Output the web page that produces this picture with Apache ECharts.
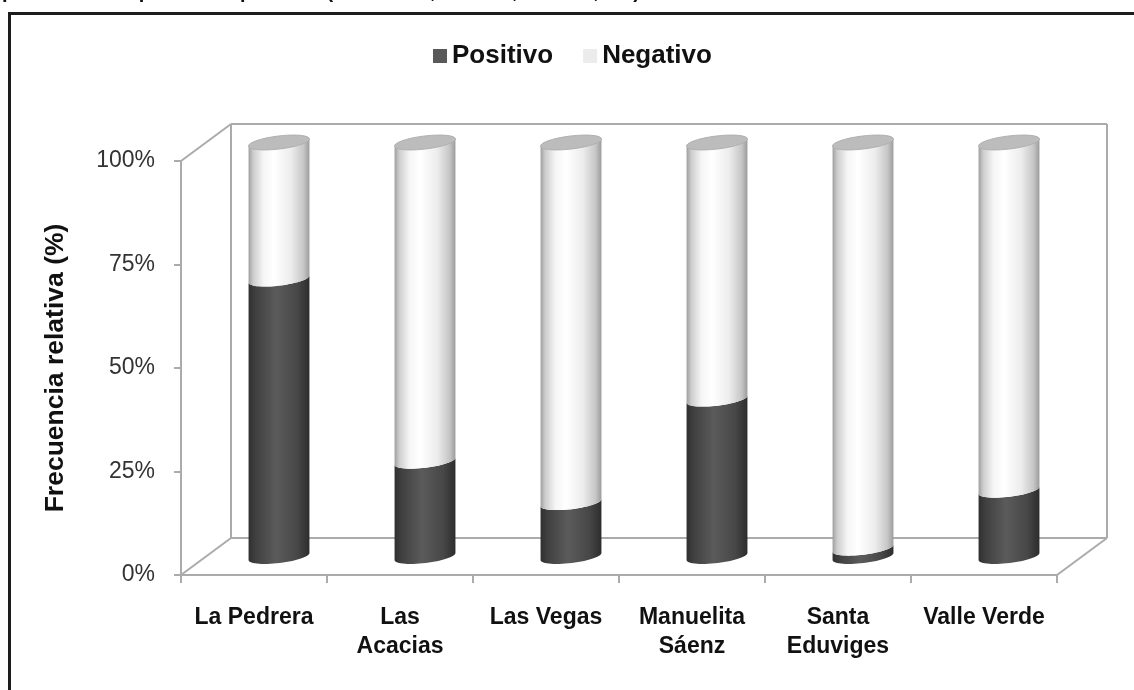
<!DOCTYPE html>
<html>
<head>
<meta charset="utf-8">
<script src="https://cdn.jsdelivr.net/npm/echarts@6/dist/echarts.min.js"></script>
<style>
  html, body { margin: 0; padding: 0; background: #fff; }
  #chart { width: 1134px; height: 690px; }
</style>
</head>
<body>
<div id="chart"></div>
<script>
// Sites sampled and share of positive / negative results (%)
const categories = ['La Pedrera', 'Las\nAcacias', 'Las Vegas', 'Manuelita\nSáenz', 'Santa\nEduviges', 'Valle Verde'];
const positivo = [67, 23, 13, 38, 2, 16];
const negativo = [33, 77, 87, 62, 98, 84];
const yTicks = [0, 25, 50, 75, 100];

// 3-D look: depth of the box and shape of the cylinders
const DEPTH_X = 50;
const DEPTH_Y = 37;
const BAR_RATIO = 0.42;
const ELLIPSE_RY = 6.5;
const TILT = 0.12;

const FONT = 'Liberation Sans, Arial, Helvetica, sans-serif';
const FRAME_COLOR = '#ababab';

function ellipsePoint(cx, cy, rx, ry, t) {
  const u = rx * Math.cos(t);
  const v = ry * Math.sin(t);
  return [cx + u * Math.cos(TILT) + v * Math.sin(TILT),
          cy - u * Math.sin(TILT) + v * Math.cos(TILT)];
}

function arc(cx, cy, rx, ry, t0, t1, n) {
  const pts = [];
  for (let i = 0; i <= n; i++) {
    pts.push(ellipsePoint(cx, cy, rx, ry, t0 + (t1 - t0) * i / n));
  }
  return pts;
}

function cylinderGeom(api, idx, v0, v1) {
  const band = api.size([1, 0])[0];
  const a = api.coord([idx, v0]);
  const b = api.coord([idx, v1]);
  const w = band * BAR_RATIO;
  return {
    cx: a[0] + DEPTH_X / 2,
    rx: w / 2,
    yBot: a[1] - DEPTH_Y / 2,
    yTop: b[1] - DEPTH_Y / 2
  };
}

function grad(g, stops) {
  return {
    type: 'linear', global: true,
    x: g.cx - g.rx, y: 0, x2: g.cx + g.rx, y2: 0,
    colorStops: stops
  };
}

const darkStops = [
  { offset: 0, color: '#2f2f2f' },
  { offset: 0.12, color: '#404040' },
  { offset: 0.45, color: '#5b5b5b' },
  { offset: 0.8, color: '#474747' },
  { offset: 1, color: '#2c2c2c' }
];
const lightStops = [
  { offset: 0, color: '#9c9c9c' },
  { offset: 0.08, color: '#cdcdcd' },
  { offset: 0.25, color: '#f6f6f6' },
  { offset: 0.42, color: '#ffffff' },
  { offset: 0.7, color: '#ececec' },
  { offset: 0.9, color: '#c6c6c6' },
  { offset: 1, color: '#9a9a9a' }
];

// Lower segment of each cylinder (Positivo)
function renderPositivo(params, api) {
  const idx = api.value(0);
  const g = cylinderGeom(api, idx, 0, api.value(1));
  const pts = arc(g.cx, g.yBot, g.rx, ELLIPSE_RY, Math.PI, 0, 30)
    .concat(arc(g.cx, g.yTop, g.rx, ELLIPSE_RY, 0, Math.PI, 30));
  return {
    type: 'polygon',
    shape: { points: pts },
    style: { fill: grad(g, darkStops) }
  };
}

// Upper segment of each cylinder (Negativo) with its top cap
function renderNegativo(params, api) {
  const idx = api.value(0);
  const base = api.value(1);
  const g = cylinderGeom(api, idx, base, base + api.value(2));
  const body = arc(g.cx, g.yBot, g.rx, ELLIPSE_RY, Math.PI, 0, 30)
    .concat(arc(g.cx, g.yTop, g.rx, ELLIPSE_RY, 0, -Math.PI, 30));
  const cap = arc(g.cx, g.yTop, g.rx, ELLIPSE_RY, 0, 2 * Math.PI, 60);
  return {
    type: 'group',
    children: [
      { type: 'polygon', shape: { points: body }, style: { fill: grad(g, lightStops) } },
      { type: 'polygon', shape: { points: cap }, style: { fill: '#bcbcbc', stroke: '#b0b0b0', lineWidth: 1 } }
    ]
  };
}

// Back wall and floor of the 3-D box
function renderFrame(params, api) {
  const band = api.size([1, 0])[0];
  const first = api.coord([0, 0]);
  const left = first[0] - band / 2;
  const right = left + band * categories.length;
  const yBot = first[1];
  const yTop = api.coord([0, yTicks[yTicks.length - 1]])[1];
  const seg = (x1, y1, x2, y2) => ({
    type: 'line',
    shape: { x1, y1, x2, y2 },
    style: { stroke: FRAME_COLOR, lineWidth: 2 }
  });
  return {
    type: 'group',
    children: [
      seg(left + DEPTH_X, yTop - DEPTH_Y, right + DEPTH_X, yTop - DEPTH_Y),
      seg(left + DEPTH_X, yTop - DEPTH_Y, left + DEPTH_X, yBot - DEPTH_Y),
      seg(right + DEPTH_X, yTop - DEPTH_Y, right + DEPTH_X, yBot - DEPTH_Y),
      seg(left + DEPTH_X, yBot - DEPTH_Y, right + DEPTH_X, yBot - DEPTH_Y),
      seg(left, yTop, left + DEPTH_X, yTop - DEPTH_Y),
      seg(left, yBot, left + DEPTH_X, yBot - DEPTH_Y),
      seg(right, yBot, right + DEPTH_X, yBot - DEPTH_Y)
    ]
  };
}

const chart = echarts.init(document.getElementById('chart'), null, { renderer: 'canvas' });

chart.setOption({
  animation: false,
  backgroundColor: '#ffffff',
  textStyle: { fontFamily: FONT },
  graphic: [
    {
      type: 'text', left: 2, top: -18, silent: true,
      style: {
        text: 'por estos componentes químicos (alcaloides, taninos, fenoles, etc)',
        font: 'bold 20px ' + FONT, fill: '#111'
      }
    },
    {
      type: 'rect', silent: true, z: 100,
      shape: { x: 9.5, y: 13.5, width: 1200, height: 800 },
      style: { fill: 'none', stroke: '#1c1c1c', lineWidth: 3 }
    }
  ],
  legend: {
    left: 433, top: 43, padding: 0,
    icon: 'rect', itemWidth: 14, itemHeight: 14, itemGap: 30,
    data: [
      { name: 'Positivo', itemStyle: { color: '#595959' } },
      { name: 'Negativo', itemStyle: { color: '#ececec' } }
    ],
    textStyle: { fontFamily: FONT, fontWeight: 'bold', fontSize: 26, color: '#111' }
  },
  grid: { left: 181, right: 77, top: 161, bottom: 115, containLabel: false },
  xAxis: {
    type: 'category',
    data: categories,
    axisLine: { lineStyle: { color: FRAME_COLOR, width: 2 } },
    axisTick: { show: true, length: 8, interval: 0, lineStyle: { color: FRAME_COLOR, width: 2 } },
    axisLabel: {
      interval: 0, margin: 28, color: '#111',
      fontFamily: FONT, fontWeight: 'bold', fontSize: 23, lineHeight: 29
    }
  },
  yAxis: {
    type: 'value',
    min: 0, max: 100, interval: 25,
    name: 'Frecuencia relativa (%)',
    nameLocation: 'middle',
    nameGap: 112,
    nameRotate: 90,
    nameTextStyle: { fontFamily: FONT, fontWeight: 'bold', fontSize: 26.5, color: '#111' },
    axisLine: { show: true, lineStyle: { color: FRAME_COLOR, width: 2 } },
    axisTick: { show: true, length: 7, lineStyle: { color: FRAME_COLOR, width: 2 } },
    splitLine: { show: false },
    axisLabel: {
      margin: 26, color: '#333', fontFamily: FONT, fontSize: 23,
      formatter: '{value}%'
    }
  },
  series: [
    {
      type: 'custom', name: 'frame', silent: true, z: 1,
      renderItem: renderFrame,
      data: [[0, 0]],
      encode: { x: 0, y: 1 }
    },
    {
      type: 'custom', name: 'Positivo', z: 2,
      itemStyle: { color: '#595959' },
      renderItem: renderPositivo,
      data: positivo.map((v, i) => [i, v]),
      encode: { x: 0, y: 1 }
    },
    {
      type: 'custom', name: 'Negativo', z: 3,
      itemStyle: { color: '#ececec' },
      renderItem: renderNegativo,
      data: negativo.map((v, i) => [i, positivo[i], v]),
      encode: { x: 0, y: [1, 2] }
    }
  ]
});
</script>
</body>
</html>
